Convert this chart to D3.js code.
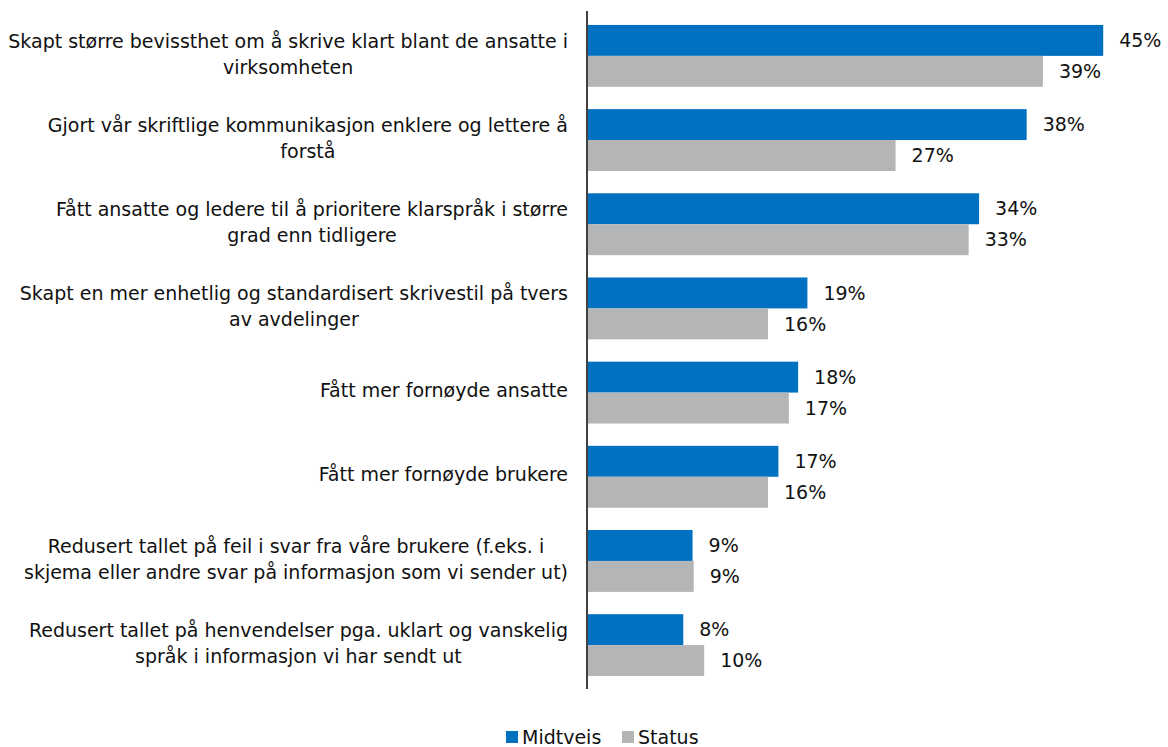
<!DOCTYPE html>
<html>
<head>
<meta charset="utf-8">
<script src="https://cdn.jsdelivr.net/npm/d3@7"></script>
<style>
  body { margin: 0; background: #fff; }
  svg text { font-family: "DejaVu Sans", sans-serif; fill: #111; }
</style>
</head>
<body>
<div id="chart"></div>
<script>
const categories = [
  ["Skapt større bevissthet om å skrive klart blant de ansatte i", "virksomheten"],
  ["Gjort vår skriftlige kommunikasjon enklere og lettere å", "forstå"],
  ["Fått ansatte og ledere til å prioritere klarspråk i større", "grad enn tidligere"],
  ["Skapt en mer enhetlig og standardisert skrivestil på tvers", "av avdelinger"],
  ["Fått mer fornøyde ansatte"],
  ["Fått mer fornøyde brukere"],
  ["Redusert tallet på feil i svar fra våre brukere (f.eks. i", "skjema eller andre svar på informasjon som vi sender ut)"],
  ["Redusert tallet på henvendelser pga. uklart og vanskelig", "språk i informasjon vi har sendt ut"]
];
const seriesNames = ["Midtveis", "Status"];
const midtveis = [44.5, 37.9, 33.8, 19.0, 18.2, 16.5, 9.1, 8.3];
const status = [39.3, 26.6, 32.9, 15.6, 17.4, 15.6, 9.2, 10.1];
const colors = ["#0070C0", "#B4B5B7"];

const width = 1168, height = 747;
const axisX = 587;
const fontSize = "19px";

const svg = d3.select("#chart").append("svg")
  .attr("width", width)
  .attr("height", height);

const x = d3.scaleLinear().domain([0, 50]).range([axisX, 1167]);

const y = d3.scaleBand()
  .domain(d3.range(categories.length))
  .range([14, 687])
  .paddingInner(0.265)
  .paddingOuter(0.13);

const y2 = d3.scaleBand()
  .domain(seriesNames)
  .range([0, y.bandwidth()]);

const rows = categories.map((c, i) => ({ i, vals: [midtveis[i], status[i]] }));

const groups = svg.append("g")
  .selectAll("g")
  .data(rows)
  .enter()
  .append("g")
  .attr("transform", d => `translate(0,${y(d.i)})`);

groups.selectAll("rect")
  .data(d => d.vals.map((v, k) => ({ v, k })))
  .enter()
  .append("rect")
  .attr("x", x(0))
  .attr("y", d => y2(seriesNames[d.k]))
  .attr("width", d => x(d.v) - x(0))
  .attr("height", y2.bandwidth())
  .attr("fill", d => colors[d.k]);

groups.selectAll("text.val")
  .data(d => d.vals.map((v, k) => ({ v, k })))
  .enter()
  .append("text")
  .attr("class", "val")
  .attr("x", d => x(d.v) + 16)
  .attr("y", d => y2(seriesNames[d.k]) + y2.bandwidth() / 2)
  .attr("dy", "0.35em")
  .style("font-size", fontSize)
  .text(d => Math.round(d.v) + "%");

// category labels: block right-aligned, lines centred within the block
const labelRight = 568;
const lineH = 26;
const labels = svg.append("g");
categories.forEach((lines, i) => {
  const cy = y(i) + y.bandwidth() / 2 - 2;
  const g = labels.append("g");
  const texts = lines.map((ln, j) => g.append("text")
    .attr("y", cy + (j - (lines.length - 1) / 2) * lineH)
    .attr("dy", "0.35em")
    .attr("text-anchor", "middle")
    .style("font-size", fontSize)
    .text(ln));
  const maxW = d3.max(texts, t => t.node().getComputedTextLength());
  texts.forEach(t => t.attr("x", labelRight - maxW / 2));
});

// vertical axis line
svg.append("line")
  .attr("x1", axisX).attr("x2", axisX)
  .attr("y1", 11).attr("y2", 689)
  .attr("stroke", "#404040")
  .attr("stroke-width", 2);

// legend
const legend = svg.append("g").attr("transform", "translate(506, 737)");
const legendX = [0, 116];
seriesNames.forEach((name, k) => {
  const item = legend.append("g").attr("transform", `translate(${legendX[k]},0)`);
  item.append("rect")
    .attr("x", 0).attr("y", -6)
    .attr("width", 12).attr("height", 12)
    .attr("fill", colors[k]);
  item.append("text")
    .attr("x", 16)
    .attr("dy", "0.35em")
    .style("font-size", fontSize)
    .text(name);
});
</script>
</body>
</html>
